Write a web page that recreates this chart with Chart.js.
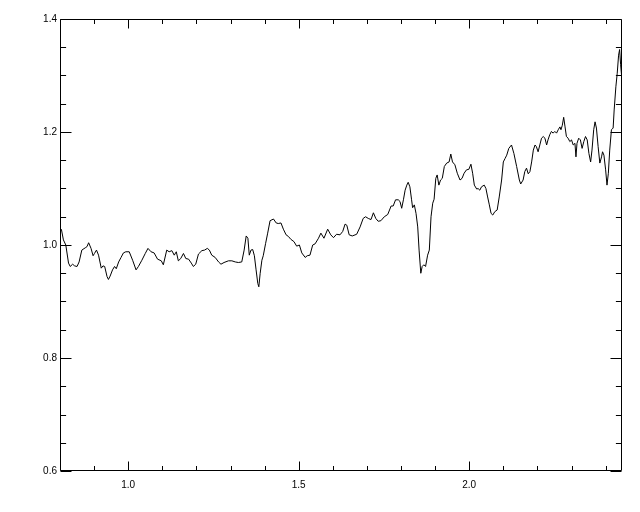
<!DOCTYPE html>
<html>
<head>
<meta charset="utf-8">
<script src="https://cdn.jsdelivr.net/npm/chart.js@4/dist/chart.umd.min.js"></script>
<style>
  html,body{margin:0;padding:0;background:#fff;}
  #wrap{width:640px;height:512px;}
</style>
</head>
<body>
<div id="wrap"><canvas id="c" width="640" height="512"></canvas></div>
<script>
// Wavelength-like x values and flux-like y values
const xs = [
0.804,0.810,0.817,0.825,0.830,0.837,0.843,0.850,0.856,0.864,0.874,0.879,0.884,0.891,0.897,0.901,0.907,0.913,0.921,0.926,
0.931,0.938,0.942,0.947,0.954,0.960,0.965,0.972,0.979,0.986,0.993,1.003,1.013,1.023,1.030,1.040,1.050,1.058,1.067,1.076,
1.086,1.097,1.103,1.113,1.120,1.128,1.135,1.141,1.147,1.154,1.162,1.169,1.177,1.185,1.191,1.198,1.206,1.216,1.224,
1.232,1.238,1.245,1.255,1.265,1.272,1.281,1.294,1.304,1.314,1.323,1.333,1.340,1.346,1.351,1.355,1.360,1.365,1.370,1.375,
1.380,1.383,1.387,1.392,1.396,1.403,1.409,1.416,1.426,1.434,1.440,1.448,1.455,1.463,1.470,1.477,1.486,1.494,1.502,1.509,
1.519,1.525,1.533,1.541,1.548,1.558,1.565,1.574,1.585,1.594,1.602,1.611,1.621,1.629,1.636,1.641,1.648,
1.657,1.670,1.680,1.689,1.696,1.704,1.712,1.719,1.726,1.733,1.741,1.751,1.761,1.771,1.777,1.784,1.792,1.797,1.802,1.807,
1.812,1.817,1.821,1.826,1.831,1.834,1.839,1.844,1.849,1.853,1.858,1.862,1.867,1.872,1.878,1.883,1.888,1.893,1.897,1.902,
1.906,1.911,1.916,1.921,1.927,1.934,1.941,1.946,1.951,1.958,1.965,1.973,1.979,1.985,1.992,1.999,2.005,2.010,2.015,2.022,
2.026,2.031,2.036,2.044,2.049,2.054,2.059,2.064,2.069,
2.075,2.082,2.088,2.095,2.100,2.105,2.110,2.116,2.124,2.131,2.139,2.147,2.151,2.158,2.163,2.168,2.173,2.178,2.183,2.188,
2.193,2.197,2.202,2.207,2.212,2.217,2.222,2.227,2.231,2.236,2.241,2.246,2.251,2.256,2.261,2.266,2.269,2.273,2.277,2.281,
2.285,2.290,2.295,2.300,2.305,2.310,2.313,2.316,2.321,2.326,2.331,2.336,2.341,2.346,2.351,2.356,2.360,2.365,2.369,2.373,
2.378,2.383,2.388,2.391,2.395,2.400,2.404,2.408,2.412,2.417,2.422,2.425,2.430,2.434,2.438,2.441,2.444,2.447
];
const ys = [
1.028,1.009,1.000,0.968,0.962,0.966,0.963,0.962,0.970,0.991,0.995,0.997,1.004,0.994,0.981,0.985,0.991,0.982,0.959,0.963,
0.962,0.944,0.939,0.945,0.956,0.962,0.958,0.970,0.978,0.986,0.988,0.988,0.973,0.956,0.962,0.973,0.985,0.994,0.988,0.986,
0.975,0.972,0.965,0.991,0.988,0.990,0.982,0.988,0.972,0.976,0.985,0.976,0.975,0.968,0.962,0.966,0.984,0.990,0.991,
0.994,0.991,0.982,0.978,0.970,0.966,0.969,0.972,0.972,0.970,0.969,0.970,0.991,1.016,1.012,0.982,0.991,0.992,0.981,0.956,
0.932,0.926,0.950,0.973,0.981,1.003,1.021,1.043,1.046,1.039,1.038,1.039,1.028,1.018,1.015,1.010,1.006,0.998,1.000,0.986,
0.978,0.981,0.982,1.000,1.002,1.012,1.021,1.012,1.028,1.018,1.013,1.019,1.018,1.024,1.037,1.035,1.018,
1.016,1.019,1.032,1.047,1.050,1.047,1.045,1.057,1.047,1.042,1.043,1.050,1.054,1.069,1.069,1.080,1.080,1.077,1.065,1.080,
1.097,1.106,1.111,1.103,1.080,1.066,1.071,1.056,1.032,0.991,0.950,0.962,0.965,0.962,0.982,0.991,1.050,1.074,1.081,1.118,
1.124,1.106,1.115,1.118,1.139,1.145,1.147,1.161,1.147,1.142,1.127,1.115,1.118,1.127,1.133,1.134,1.143,1.127,1.106,1.099,
1.100,1.097,1.103,1.106,1.100,1.085,1.071,1.056,1.053,
1.059,1.062,1.085,1.115,1.147,1.153,1.159,1.171,1.177,1.162,1.139,1.115,1.108,1.115,1.130,1.136,1.126,1.130,1.147,1.168,
1.177,1.174,1.165,1.177,1.189,1.192,1.189,1.177,1.186,1.195,1.201,1.198,1.201,1.198,1.204,1.209,1.204,1.212,1.226,1.209,
1.192,1.189,1.183,1.186,1.177,1.180,1.156,1.180,1.189,1.186,1.171,1.183,1.192,1.186,1.162,1.147,1.168,1.204,1.218,1.207,
1.174,1.145,1.156,1.165,1.159,1.133,1.106,1.127,1.168,1.204,1.207,1.239,1.280,1.304,1.336,1.346,1.319,1.298
];
const xMajorTicks = [1.0, 1.5, 2.0];
const xTickLabels = ['1.0', '1.5', '2.0'];
const yMajorTicks = [0.6, 0.8, 1.0, 1.2, 1.4];
const yTickLabels = ['0.6', '0.8', '1.0', '1.2', '1.4'];
const xRange = [0.8, 2.448];
const yRange = [0.6, 1.4];
const xMinorStep = 0.1;
const yMinorStep = 0.05;

const points = xs.map((x, i) => ({x: x, y: ys[i]}));

const frameTicks = {
  id: 'frameTicks',
  afterDraw(chart) {
    const {ctx, chartArea: a, scales: {x, y}} = chart;
    ctx.save();
    ctx.strokeStyle = '#000';
    ctx.lineWidth = 1;
    ctx.beginPath();
    const L = Math.round(a.left) + 0.5, R = Math.round(a.right) - 0.5;
    const T = Math.round(a.top) + 0.5, B = Math.round(a.bottom) - 0.5;
    ctx.rect(L, T, R - L, B - T);
    const isMaj = (v, arr) => arr.some(m => Math.abs(m - v) < 1e-6);
    for (let k = Math.ceil(xRange[0] / xMinorStep - 1e-6); k * xMinorStep <= xRange[1] + 1e-9; k++) {
      const v = +(k * xMinorStep).toFixed(3);
      const p = Math.round(x.getPixelForValue(v)) + 0.5;
      const len = isMaj(v, xMajorTicks) ? 9 : 4.5;
      ctx.moveTo(p, B); ctx.lineTo(p, B - len);
      ctx.moveTo(p, T); ctx.lineTo(p, T + len);
    }
    for (let k = Math.ceil(yRange[0] / yMinorStep - 1e-6); k * yMinorStep <= yRange[1] + 1e-9; k++) {
      const v = +(k * yMinorStep).toFixed(3);
      const p = Math.round(y.getPixelForValue(v)) + 0.5;
      const len = isMaj(v, yMajorTicks) ? 11 : 5.6;
      ctx.moveTo(L, p); ctx.lineTo(L + len, p);
      ctx.moveTo(R, p); ctx.lineTo(R - len, p);
    }
    ctx.stroke();
    ctx.restore();
  }
};

const font = {family: '"Liberation Sans", Arial, Helvetica, sans-serif', size: 10};

new Chart(document.getElementById('c'), {
  type: 'scatter',
  data: {
    datasets: [{
      data: points,
      showLine: true,
      borderColor: '#000',
      borderWidth: 1,
      pointRadius: 0,
      tension: 0,
      fill: false
    }]
  },
  options: {
    responsive: false,
    animation: false,
    events: [],
    layout: {padding: {left: 0, right: 18, top: 19, bottom: 0}},
    plugins: {legend: {display: false}, tooltip: {enabled: false}},
    scales: {
      x: {
        type: 'linear',
        min: xRange[0], max: xRange[1],
        grid: {display: false, drawTicks: false},
        border: {display: false},
        afterBuildTicks: s => { s.ticks = xMajorTicks.map(v => ({value: v})); },
        afterFit: s => { s.height = 41; },
        ticks: {
          color: '#000', font: font, padding: 8, maxRotation: 0, autoSkip: false,
          callback: (v) => { const i = xMajorTicks.findIndex(m => Math.abs(m - v) < 1e-6); return i >= 0 ? xTickLabels[i] : ''; }
        }
      },
      y: {
        type: 'linear',
        min: yRange[0], max: yRange[1],
        grid: {display: false, drawTicks: false},
        border: {display: false},
        afterBuildTicks: s => { s.ticks = yMajorTicks.map(v => ({value: v})); },
        afterFit: s => { s.width = 60; },
        ticks: {
          color: '#000', font: font, padding: 3, autoSkip: false,
          callback: (v) => { const i = yMajorTicks.findIndex(m => Math.abs(m - v) < 1e-6); return i >= 0 ? yTickLabels[i] : ''; }
        }
      }
    }
  },
  plugins: [frameTicks]
});
</script>
</body>
</html>
